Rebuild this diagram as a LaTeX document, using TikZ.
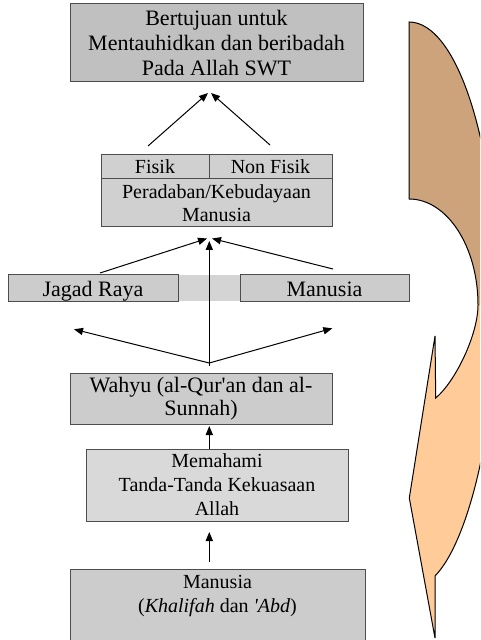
\documentclass[tikz,border=0pt]{standalone}
\usepackage{fontspec}
\setmainfont{Liberation Serif}
\usetikzlibrary{arrows.meta}
\definecolor{brownA}{HTML}{CCA37A}
\definecolor{peach}{HTML}{FFCC99}
\definecolor{edgegray}{HTML}{4D4D4D}
\definecolor{gA}{HTML}{C0C0C0}
\definecolor{gB}{HTML}{D0D0D0}
\definecolor{gC}{HTML}{CCCCCC}
\definecolor{gD}{HTML}{D9D9D9}
\definecolor{gband}{HTML}{D4D4D4}
\begin{document}
\begin{tikzpicture}[x=0.5pt,y=-0.5pt,
  box/.style={draw=edgegray, line width=0.5pt, inner sep=0pt, align=center, rectangle},
  arr/.style={-{Triangle[length=4.5pt,width=3.6pt]}, line width=0.5pt},
  big/.style={font=\fontsize{11}{12.35}\selectfont},
  small/.style={font=\fontsize{10}{12}\selectfont},
  cellten/.style={text height=9.5pt, text depth=2.5pt},
  cellelev/.style={text height=10.75pt, text depth=2.75pt}]
\useasboundingbox (0,0) rectangle (480,640);
\fill[white] (0,0) rectangle (480,640);

% top goal box
\node[box, big, fill=gA, minimum width=146.5pt, minimum height=39pt] (goal) at (216.5,43)
  {Bertujuan untuk\\Mentauhidkan dan beribadah\\Pada Allah SWT};

% civilisation box
\node[box, small, cellten, fill=gB, minimum width=54pt, minimum height=12pt] (fisik) at (155,167) {Fisik};
\node[box, small, cellten, fill=gB, minimum width=61.5pt, minimum height=12pt] (nonfisik) at (270.5,167) {Non Fisik};
\node[box, font=\fontsize{10}{11.5}\selectfont, fill=gB, minimum width=115.5pt, minimum height=24pt] (perad) at (216.5,203)
  {Peradaban/Kebudayaan\\Manusia};

% band with universe and man
\node[fill=gband, inner sep=0pt, minimum width=200.5pt, minimum height=13pt] (band) at (208.5,288) {};
\node[box, big, cellelev, fill=gC, minimum width=85pt, minimum height=13pt] (jagad) at (93,288) {Jagad Raya};
\node[box, big, cellelev, fill=gC, minimum width=84.5pt, minimum height=13pt] (manusia) at (324.5,288) {Manusia};

% revelation
\node[box, font=\fontsize{11}{11.5}\selectfont, fill=gC, minimum width=131pt, minimum height=25.5pt] (wahyu) at (201,398.5)
  {Wahyu (al-Qur\textquotesingle an dan al-\\Sunnah)};

% understanding
\node[box, small, fill=gD, minimum width=131pt, minimum height=36pt] (memahami) at (217,485)
  {Memahami\\Tanda-Tanda Kekuasaan\\Allah};

% base
\node[box, fill=gC, minimum width=147.5pt, minimum height=40.5pt] (base) at (217.5,609.5) {};
\node[small, align=center, inner sep=0pt] (basetext) at (217.5,596)
  {Manusia\\(\textit{Khalifah} dan \textit{\textquotesingle Abd})};

% arrow coordinates
\coordinate (a1s) at (148,146); \coordinate (a1e) at (208,93);
\coordinate (a2s) at (270,145); \coordinate (a2e) at (211,93);
\coordinate (a3s) at (100,273); \coordinate (a3e) at (207,238.5);
\coordinate (a4s) at (333,269); \coordinate (a4e) at (212,238.5);
\coordinate (hub) at (209.3,363);
\coordinate (hubv) at (209.3,366);
\coordinate (a5e) at (209.3,241);
\coordinate (a6e) at (74,329.3);
\coordinate (a7e) at (332.3,328.3);
\coordinate (a8s) at (209.3,449); \coordinate (a8e) at (209.3,426);
\coordinate (a9s) at (209.3,562); \coordinate (a9e) at (209.3,532);

\draw[arr] (a1s) -- (a1e);
\draw[arr] (a2s) -- (a2e);
\draw[arr] (a3s) -- (a3e);
\draw[arr] (a4s) -- (a4e);
\draw[arr] (hubv) -- (a5e);
\draw[arr] (hub) -- (a6e);
\draw[arr] (hub) -- (a7e);
\draw[arr] (a8s) -- (a8e);
\draw[arr] (a9s) -- (a9e);

% curved arrow on the right
\begin{scope}
\clip (0,0) rectangle (480,640);
\path[fill=peach] (409,199) -- (409,22) .. controls (457.6,22) and (497,146.5) .. (497,300)
  .. controls (497,420) and (470,540) .. (435,576) -- (435,638) -- (409.3,498) -- (435,336)
  -- (435.7,398) .. controls (455,382) and (478,335) .. (478,305)
  .. controls (478,246.5) and (447,199) .. (409,199) -- cycle;
\path[fill=brownA] (409,199) -- (409,22) .. controls (457.6,22) and (497,146.5) .. (497,300)
  -- (500,300) -- (500,305) -- (478,305)
  .. controls (478,246.5) and (447,199) .. (409,199) -- cycle;
\draw[line width=0.5pt] (409,199) -- (409,22) .. controls (457.6,22) and (497,146.5) .. (497,300)
  .. controls (497,420) and (470,540) .. (435,576) -- (435,638) -- (409.3,498) -- (435,336)
  -- (435.7,398) .. controls (455,382) and (478,335) .. (478,305)
  .. controls (478,246.5) and (447,199) .. (409,199) -- cycle;
\end{scope}
\end{tikzpicture}
\end{document}
